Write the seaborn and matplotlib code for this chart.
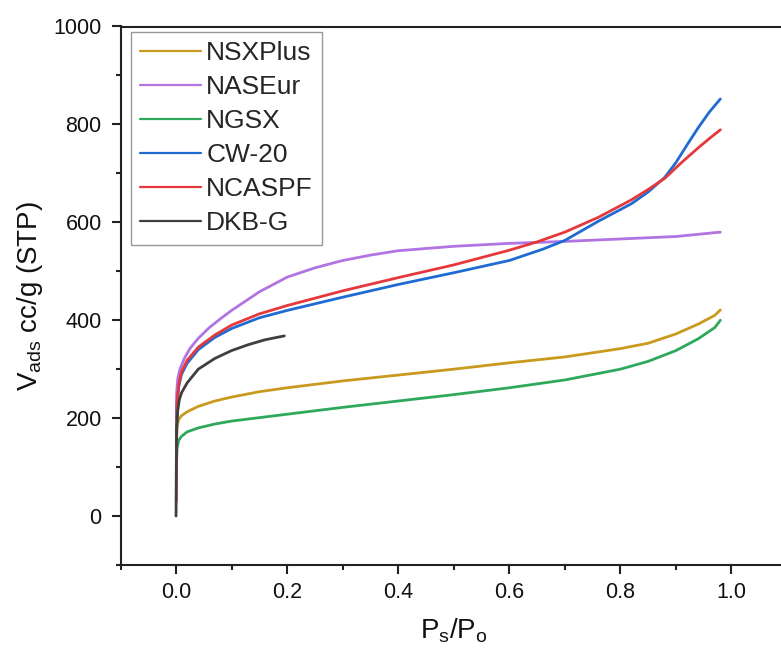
import pandas as pd
import numpy as np
import matplotlib
matplotlib.use('Agg')
import matplotlib.pyplot as plt
import seaborn as sns

# isotherm data (P/Po vs volume adsorbed)
nsxplus_p = [0.0005, 0.002, 0.005, 0.01, 0.02, 0.04, 0.07, 0.1, 0.15, 0.2, 0.3, 0.4, 0.5, 0.6, 0.7, 0.8, 0.85, 0.9, 0.94, 0.97, 0.98]
nsxplus_v = [150, 185, 198, 205, 213, 224, 235, 243, 254, 262, 276, 288, 300, 313, 325, 342, 353, 372, 392, 410, 421]

naseur_p = [0.0005, 0.001, 0.003, 0.007, 0.015, 0.025, 0.04, 0.06, 0.08, 0.1, 0.15, 0.2, 0.25, 0.3, 0.35, 0.4, 0.5, 0.6, 0.7, 0.8, 0.9, 0.98]
naseur_v = [200, 250, 280, 300, 322, 342, 363, 385, 403, 420, 458, 488, 507, 522, 533, 542, 551, 557, 561, 566, 571, 580]

ngsx_p = [0.0005, 0.002, 0.005, 0.01, 0.02, 0.04, 0.07, 0.1, 0.15, 0.2, 0.3, 0.4, 0.5, 0.6, 0.7, 0.8, 0.85, 0.9, 0.94, 0.97, 0.98]
ngsx_v = [100, 140, 155, 163, 172, 180, 188, 194, 201, 208, 222, 235, 248, 262, 278, 300, 316, 338, 362, 385, 400]

cw20_p = [0.0005, 0.002, 0.005, 0.01, 0.02, 0.04, 0.07, 0.1, 0.15, 0.2, 0.3, 0.4, 0.5, 0.6, 0.66, 0.7, 0.76, 0.82, 0.85, 0.88, 0.9, 0.92, 0.94, 0.96, 0.98]
cw20_v = [150, 230, 265, 290, 312, 340, 365, 383, 405, 420, 447, 473, 497, 522, 545, 563, 602, 638, 662, 692, 722, 758, 793, 825, 852]

ncaspf_p = [0.0005, 0.001, 0.002, 0.005, 0.01, 0.02, 0.04, 0.07, 0.1, 0.15, 0.2, 0.3, 0.4, 0.5, 0.6, 0.65, 0.7, 0.76, 0.82, 0.85, 0.88, 0.91, 0.94, 0.96, 0.98]
ncaspf_v = [30, 150, 235, 270, 295, 318, 345, 370, 390, 413, 430, 460, 487, 513, 543, 560, 580, 610, 646, 667, 690, 722, 752, 771, 789]

dkbg_p = [0.0, 0.0005, 0.001, 0.003, 0.006, 0.01, 0.02, 0.04, 0.07, 0.1, 0.13, 0.16, 0.195]
dkbg_v = [0, 100, 180, 215, 238, 252, 272, 300, 322, 338, 350, 360, 368]

samples = ['NSXPlus', 'NASEur', 'NGSX', 'CW-20', 'NCASPF', 'DKB-G']
colors = ['#C99A1E', '#B274E2', '#2EA95C', '#1F6BD4', '#E5383C', '#3F3F3F']

series = {
    'NSXPlus': (nsxplus_p, nsxplus_v),
    'NASEur': (naseur_p, naseur_v),
    'NGSX': (ngsx_p, ngsx_v),
    'CW-20': (cw20_p, cw20_v),
    'NCASPF': (ncaspf_p, ncaspf_v),
    'DKB-G': (dkbg_p, dkbg_v),
}
frames = []
for name in samples:
    p, v = series[name]
    frames.append(pd.DataFrame({'P': p, 'V': v, 'sample': name}))
df = pd.concat(frames, ignore_index=True)

sns.set_style('ticks')
plt.rcParams['font.family'] = ['Liberation Sans', 'DejaVu Sans']
plt.rcParams['mathtext.fontset'] = 'custom'
plt.rcParams['mathtext.rm'] = 'Liberation Sans'
plt.rcParams['mathtext.it'] = 'Liberation Sans:italic'

fig = plt.figure(figsize=(7.81, 6.53), dpi=100)
ax = fig.add_axes([120.5 / 781, 1 - 565 / 653, 666.5 / 781, 538.5 / 653])

sns.lineplot(data=df, x='P', y='V', hue='sample', hue_order=samples,
             palette=colors, sort=False, estimator=None, units='sample',
             linewidth=2.0, ax=ax, legend=False)

ax.set_xlim(-0.1, 1.1)
ax.set_ylim(-100, 1000)
ax.set_xticks([0.0, 0.2, 0.4, 0.6, 0.8, 1.0])
ax.set_xticks(np.arange(-0.1, 1.1, 0.1), minor=True)
ax.set_yticks([0, 200, 400, 600, 800, 1000])
ax.set_yticks(np.arange(-100, 1001, 100), minor=True)
ax.set_xticklabels(['0.0', '0.2', '0.4', '0.6', '0.8', '1.0'])

for s in ['left', 'bottom', 'top']:
    ax.spines[s].set_linewidth(1.5)
    ax.spines[s].set_color('#222222')
ax.spines['right'].set_visible(False)

ax.tick_params(which='major', direction='out', length=6.5, width=1.5, color='#222222',
               labelsize=15.5, labelcolor='#111111')
ax.tick_params(which='minor', direction='out', length=3.6, width=1.5, color='#222222')
ax.tick_params(axis='y', which='major', pad=7)
ax.tick_params(axis='x', which='major', pad=6)
ax.tick_params(top=False, right=False, which='both')

ax.set_xlabel(r'$\mathrm{P_s/P_o}$', fontsize=20, color='#111111')
ax.set_ylabel(r'$\mathrm{V_{ads}}$ cc/g (STP)', fontsize=20, color='#111111')
ax.xaxis.set_label_coords(0.5, -0.095)
ax.yaxis.set_label_coords(-0.113, 0.5)

handles = [plt.Line2D([], [], color=c, linewidth=1.6) for c in colors]
leg = ax.legend(handles, samples, loc='upper left', bbox_to_anchor=(0.0158, 0.9898),
                borderaxespad=0, fontsize=19, frameon=True, fancybox=False,
                handlelength=2.3, handletextpad=0.2, labelspacing=0.38,
                borderpad=0.35)
leg.get_frame().set_edgecolor('#808080')
leg.get_frame().set_linewidth(1.0)

fig.savefig('out.png', dpi=100)
